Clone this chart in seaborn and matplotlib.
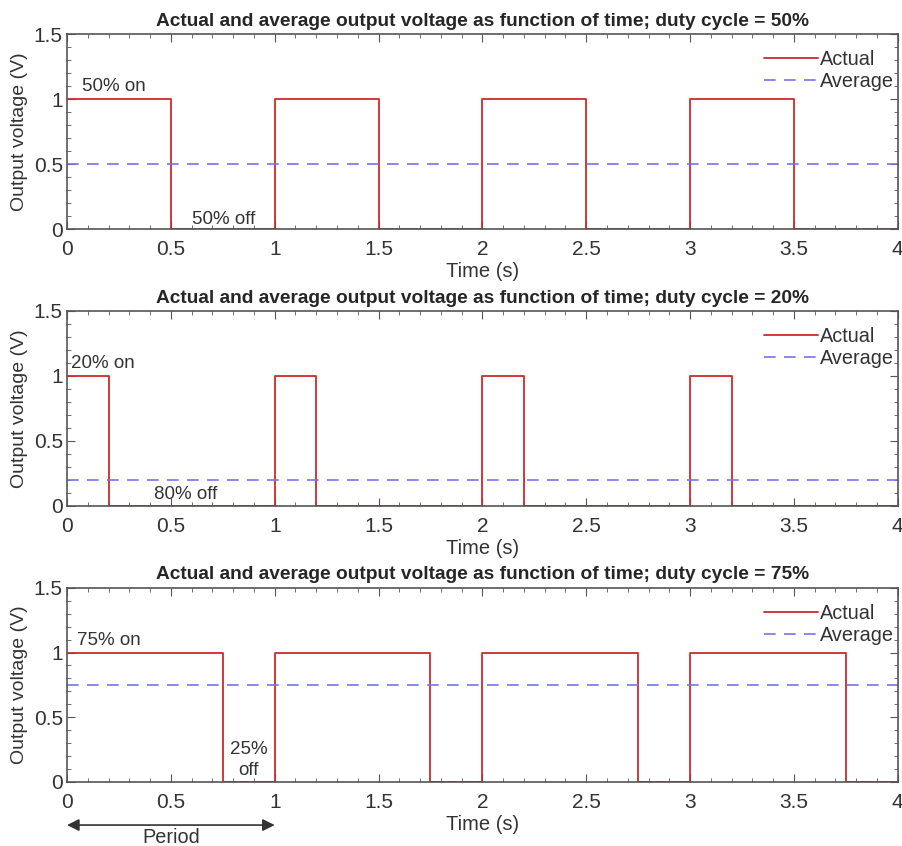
import matplotlib.pyplot as plt
from matplotlib.ticker import MultipleLocator
import seaborn as sns

# switching instants (s) and output level right after each instant (V)
time_50 = [0, 0.5, 1, 1.5, 2, 2.5, 3, 3.5, 4]
time_20 = [0, 0.2, 1, 1.2, 2, 2.2, 3, 3.2, 4]
time_75 = [0, 0.75, 1, 1.75, 2, 2.75, 3, 3.75, 4]
volt_levels = [1, 0, 1, 0, 1, 0, 1, 0, 0]

duty_cycles = ['50%', '20%', '75%']
averages = [0.5, 0.2, 0.75]
avg_span = [0, 4]

sns.set_style('ticks')
plt.rcParams['font.family'] = ['Liberation Sans', 'DejaVu Sans']

red = '#cc2a2a'
blue = '#7474ec'
edge = '#555555'
ink = '#333333'

fig = plt.figure(figsize=(9.03, 8.46), dpi=100)
boxes = [[0.0742, 0.729, 0.920, 0.2305],
         [0.0742, 0.402, 0.920, 0.2305],
         [0.0742, 0.0757, 0.920, 0.2295]]

times = [time_50, time_20, time_75]
axes = []
for box, t, dc, avg in zip(boxes, times, duty_cycles, averages):
    ax = fig.add_axes(box)
    sns.lineplot(x=t, y=volt_levels, drawstyle='steps-post', estimator=None, sort=False,
                 color=red, lw=1.3, label='Actual', ax=ax)
    sns.lineplot(x=avg_span, y=[avg, avg], estimator=None, sort=False,
                 color=blue, lw=1.2, linestyle=(0, (7, 5)), label='Average', ax=ax)
    ax.set_xlim(0, 4)
    ax.set_ylim(0, 1.5)
    ax.xaxis.set_minor_locator(MultipleLocator(0.1))
    ax.yaxis.set_minor_locator(MultipleLocator(0.1))
    ax.set_xticks([0, 0.5, 1, 1.5, 2, 2.5, 3, 3.5, 4])
    ax.set_xticklabels(['0', '0.5', '1', '1.5', '2', '2.5', '3', '3.5', '4'])
    ax.set_yticks([0, 0.5, 1, 1.5])
    ax.set_yticklabels(['0', '0.5', '1', '1.5'])
    ax.tick_params(which='both', direction='in', top=True, right=True, colors=edge,
                   labelcolor=ink, labelsize=15)
    ax.tick_params(axis='x', pad=8)
    ax.tick_params(axis='y', pad=3)
    ax.tick_params(which='major', length=6)
    ax.tick_params(which='minor', length=3)
    for s in ax.spines.values():
        s.set_color(edge)
        s.set_linewidth(1.2)
    ax.set_title('Actual and average output voltage as function of time; duty cycle = ' + dc,
                 fontsize=13.8, fontweight='bold', pad=6)
    ax.set_xlabel('Time (s)', fontsize=14.5, color=ink, labelpad=2)
    ax.set_ylabel('Output voltage (V)', fontsize=14, color=ink, labelpad=4)
    ax.legend(loc='upper right', bbox_to_anchor=(1.012, 0.99), frameon=False, fontsize=14.3,
              handlelength=2.7, handletextpad=0.1, borderaxespad=0.3, labelspacing=0.15,
              labelcolor=ink)
    axes.append(ax)

txt = dict(fontsize=13.5, color=ink)
axes[0].text(0.07, 1.03, '50% on', va='bottom', **txt)
axes[0].text(0.6, 0.01, '50% off', va='bottom', **txt)
axes[1].text(0.02, 1.03, '20% on', va='bottom', **txt)
axes[1].text(0.42, 0.02, '80% off', va='bottom', **txt)
axes[2].text(0.05, 1.03, '75% on', va='bottom', **txt)
axes[2].text(0.875, 0.02, '25%\noff', va='bottom', ha='center', linespacing=1.3, **txt)

axes[2].annotate('', xy=(0, -0.222), xytext=(1, -0.222),
                 xycoords=('data', 'axes fraction'), textcoords=('data', 'axes fraction'),
                 arrowprops=dict(arrowstyle='<|-|>', color=ink, lw=1.2,
                                 shrinkA=0, shrinkB=0, mutation_scale=18),
                 annotation_clip=False)
axes[2].text(0.5, -0.285, 'Period', ha='center', va='center', fontsize=14.3, color=ink,
             transform=axes[2].get_xaxis_transform())

fig.savefig('out.png', dpi=100)
